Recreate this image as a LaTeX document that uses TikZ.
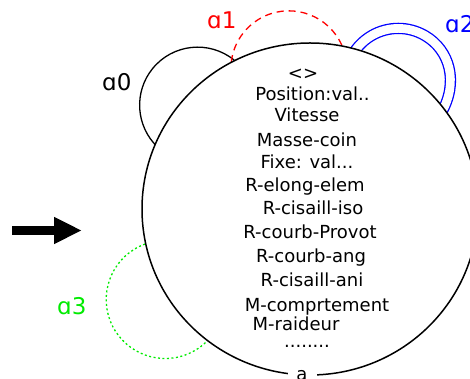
\documentclass[tikz,border=0pt]{standalone}
\usepackage{fontspec}
\setmainfont{DejaVu Sans}
\usetikzlibrary{shapes.geometric,arrows.meta,backgrounds}
\definecolor{limegreen}{RGB}{0,235,0}
\begin{document}
\begin{tikzpicture}[x=1pt,y=1pt,
  txt/.style={anchor=base,inner sep=0pt,font=\fontsize{18}{21}\selectfont},
  lbl/.style={anchor=base west,inner sep=0pt,font=\fontsize{23}{27}\selectfont},
  loopline/.style={line width=1.3pt}]
\useasboundingbox (0,0) rectangle (470,379);
\node[ellipse,draw,line width=1.5pt,fill=white,minimum width=336pt,minimum height=332pt,inner sep=0pt] (s) at (310,170) {};
\node[txt] (t0) at (303,299.5) {<>};
\node[txt] (t1) at (312.5,278.5) {Position:val..};
\node[txt] (t2) at (307,257) {Vitesse};
\node[txt] (t3) at (307,232.5) {Masse-coin};
\node[txt] (t4) at (307,210) {Fixe: val...};
\node[txt] (t5) at (305,187) {R-elong-elem};
\node[txt] (t6) at (313,164) {R-cisaill-iso};
\node[txt] (t7) at (310,140) {R-courb-Provot};
\node[txt] (t8) at (311,116) {R-courb-ang};
\node[txt] (t9) at (312,92) {R-cisaill-ani};
\node[txt] (t10) at (317,67) {M-comprtement};
\node[txt] (t11) at (296,48) {M-raideur};
\node[txt] (t12) at (307,31) {........};
\node[fill=white,inner sep=0pt,minimum width=29pt,minimum height=14pt,font=\fontsize{18}{21}\selectfont] (sa) at (302,3) {a};
\node[lbl] (l0) at (102,288) {ɑ0};
\node[lbl,red] (l1) at (207,350) {ɑ1};
\node[lbl,blue] (l2) at (445,346) {ɑ2};
\node[lbl,limegreen] (l3) at (57,64) {ɑ3};
\coordinate (ar0) at (12,148.5);
\coordinate (ar1) at (82,148.5);
\draw[line width=9pt,-{Triangle[length=28pt,width=25pt]}] (ar0) -- (ar1);
\begin{pgfonlayer}{background}
\draw[loopline] (s.117) arc[start angle=51,end angle=226,radius=58];
\draw[loopline,red,dash pattern=on 7pt off 5pt] (s.79) arc[start angle=24,end angle=178,radius=58];
\draw[blue,line width=1.3pt,double=white,double distance=8.7pt,shorten <=-6pt] (s.37) arc[start angle=-30,end angle=155,radius=53];
\draw[loopline,limegreen,dash pattern=on 2pt off 2.5pt] (s.192) arc[start angle=110,end angle=318,radius=59];
\end{pgfonlayer}
\end{tikzpicture}
\end{document}
